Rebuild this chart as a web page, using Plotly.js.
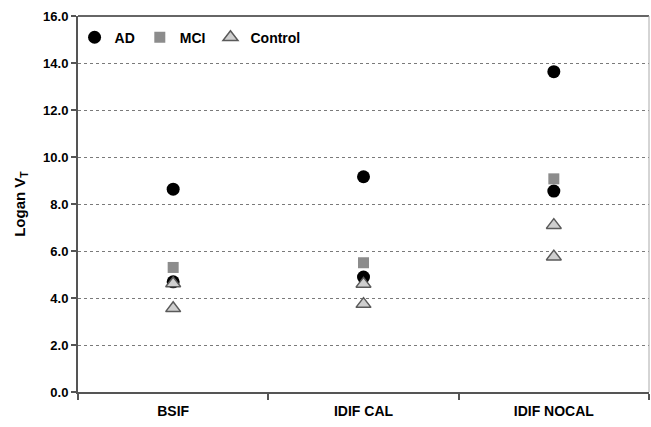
<!DOCTYPE html>
<html>
<head>
<meta charset="utf-8">
<script src="https://cdn.plot.ly/plotly-3.0.1.min.js"></script>
<style>html,body{margin:0;padding:0;background:#fff;}#chart{width:651px;height:427px;}</style>
</head>
<body>
<div id="chart"></div>
<script>
// Data
const categories = ['BSIF', 'IDIF CAL', 'IDIF NOCAL'];
const adHigh   = [8.63, 9.16, 13.63];
const adLow    = [4.69, 4.89, 8.55];
const mciVals  = [5.30, 5.50, 9.07];
const ctrlHigh = [4.62, 4.60, 7.10];
const ctrlLow  = [3.56, 3.74, 5.76];
const yTicks   = [0, 2, 4, 6, 8, 10, 12, 14, 16];

const font = 'Arial, "Liberation Sans", sans-serif';

const traces = [
  {
    name: 'AD', type: 'scatter', mode: 'markers',
    x: categories.concat(categories), y: adHigh.concat(adLow),
    marker: {symbol: 'circle', size: 13, color: '#000000'}
  },
  {
    name: 'MCI', type: 'scatter', mode: 'markers',
    x: categories, y: mciVals,
    marker: {symbol: 'square', size: 11, color: '#8c8c8c'}
  },
  {
    name: 'Control', type: 'scatter', mode: 'markers',
    x: categories.concat(categories), y: ctrlHigh.concat(ctrlLow),
    marker: {symbol: 'triangle-up', size: 13, color: '#cfcfcf', line: {color: '#5a5a5a', width: 1.5}}
  }
];

const layout = {
  width: 651, height: 427,
  margin: {l: 78, r: 2, t: 16, b: 35},
  paper_bgcolor: '#ffffff', plot_bgcolor: '#ffffff',
  font: {family: font, color: '#000'},
  showlegend: true,
  legend: {
    orientation: 'h', x: -0.006, y: 0.985, xanchor: 'left', yanchor: 'top',
    font: {family: font, size: 14, weight: 'bold', color: '#000'},
    bgcolor: 'rgba(0,0,0,0)', itemwidth: 30
  },
  xaxis: {
    type: 'category', range: [-0.5, 2.5],
    tickson: 'boundaries', ticks: 'outside', ticklen: 6, tickwidth: 2, tickcolor: '#555',
    showline: true, linecolor: '#555', linewidth: 2,
    showgrid: false, zeroline: false,
    tickfont: {family: font, size: 14, weight: 'bold', color: '#000'},
    ticklabelstandoff: 5
  },
  yaxis: {
    range: [0, 16], tickvals: yTicks, tickformat: '.1f',
    ticks: 'outside', ticklen: 5, tickwidth: 1.5, tickcolor: '#555',
    showline: true, linecolor: '#555', linewidth: 2,
    showgrid: true, gridcolor: '#7a7a7a', griddash: 'dot', gridwidth: 1,
    zeroline: false,
    tickfont: {family: font, size: 13, weight: 'bold', color: '#000'},
    title: {text: 'Logan V<sub>T</sub>', font: {family: font, size: 15, weight: 'bold', color: '#000'}, standoff: 14}
  },
  shapes: [
    {type: 'line', xref: 'paper', yref: 'paper', x0: 0, x1: 1, y0: 1, y1: 1, line: {color: '#666', width: 2}},
    {type: 'line', xref: 'paper', yref: 'paper', x0: 1, x1: 1, y0: 0, y1: 1, line: {color: '#aaa', width: 1}}
  ]
};

Plotly.newPlot('chart', traces, layout, {displayModeBar: false, staticPlot: true});
</script>
</body>
</html>
